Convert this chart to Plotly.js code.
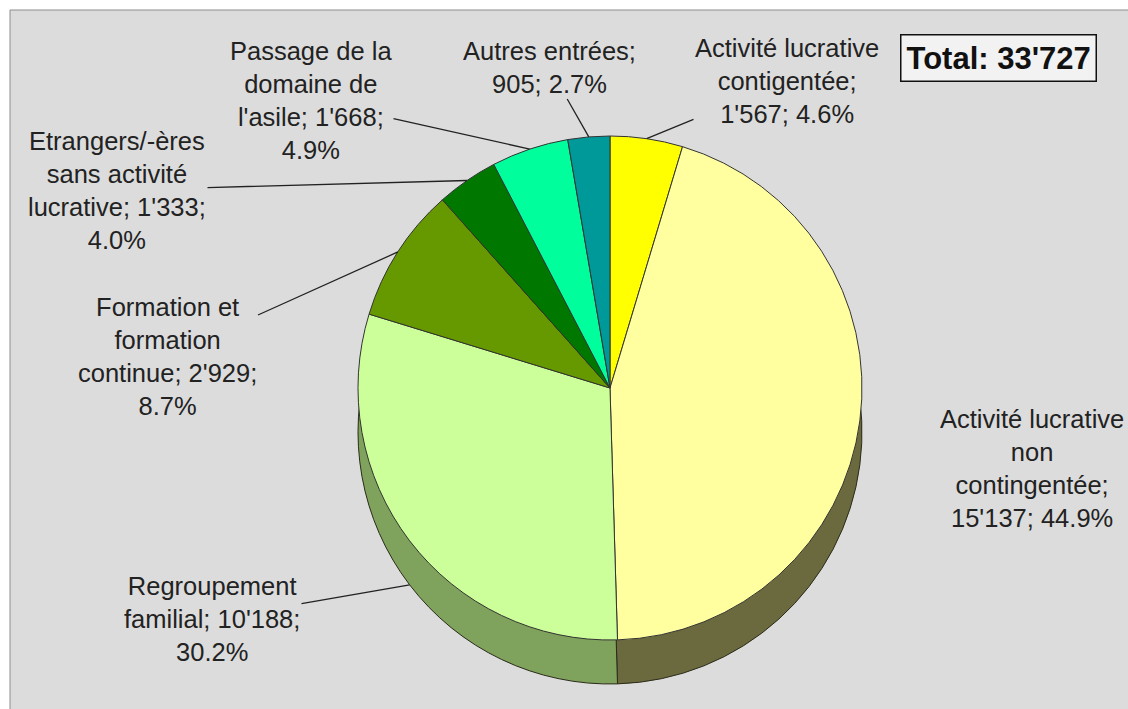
<!DOCTYPE html>
<html>
<head>
<meta charset="utf-8">
<script src="https://cdn.plot.ly/plotly-3.0.1.min.js"></script>
<style>
  body { margin: 0; background: #fff; }
  #chart { width: 1128px; height: 709px; }
</style>
</head>
<body>
<div id="chart"></div>
<script>
// slices, clockwise from 12 o'clock
const categories = [
  "Activité lucrative contigentée",
  "Activité lucrative non contingentée",
  "Regroupement familial",
  "Formation et formation continue",
  "Etrangers/-ères sans activité lucrative",
  "Passage de la domaine de l'asile",
  "Autres entrées"
];
const values = [1567, 15137, 10188, 2929, 1333, 1668, 905];

// label text as wrapped in the original ({v} = value, {p} = percent)
const labelTemplates = [
  "Activité lucrative<br>contigentée;<br>{v}; {p}",
  "Activité lucrative<br>non<br>contingentée;<br>{v}; {p}",
  "Regroupement<br>familial; {v};<br>{p}",
  "Formation et<br>formation<br>continue; {v};<br>{p}",
  "Etrangers/-ères<br>sans activité<br>lucrative; {v};<br>{p}",
  "Passage de la<br>domaine de<br>l'asile; {v};<br>{p}",
  "Autres entrées;<br>{v}; {p}"
];

const topColors = ["#ffff00", "#ffff9f", "#ccff99", "#669900", "#007800", "#00ff9c", "#009999"];
const sideColors = ["#8a8a00", "#6b6a3e", "#7fa35c", "#3d5c00", "#004a00", "#00995e", "#005c5c"];

// layout (pixels)
const W = 1128, H = 709;
const cx = 610, cy = 388, r = 252, depth = 44;
const labelPos = [[787, 81], [1032, 468], [212, 619], [167, 356], [117, 190], [311, 100], [549, 67]];
const leader = [true, false, true, true, true, true, true];

const total = values.reduce((a, b) => a + b, 0);
const fmt = n => String(n).replace(/\B(?=(\d{3})+(?!\d))/g, "'");
const pct = v => (v / total * 100).toFixed(1) + "%";

function pieDomain(offset) {
  return {
    x: [(cx - r) / W, (cx + r) / W],
    y: [1 - (cy + offset + r) / H, 1 - (cy + offset - r) / H]
  };
}

const labelFont = { family: "Liberation Sans, Arial, sans-serif", size: 25.5, color: "#222" };

const sideFace = {
  type: "pie",
  labels: categories,
  values: values,
  sort: false,
  direction: "clockwise",
  rotation: 0,
  domain: pieDomain(depth),
  marker: { colors: sideColors, line: { color: "#2b2b1a", width: 1 } },
  textinfo: "none",
  hoverinfo: "skip",
  showlegend: false
};

const topFace = {
  type: "pie",
  labels: categories,
  values: values,
  sort: false,
  direction: "clockwise",
  rotation: 0,
  domain: pieDomain(0),
  marker: { colors: topColors, line: { color: "#333", width: 1 } },
  textinfo: "none",
  hovertemplate: "%{label}<br>%{value}<br>%{percent}<extra></extra>",
  showlegend: false
};

let cum = 0;
const annotations = values.map((v, i) => {
  const mid = (cum + v / 2) / total * 2 * Math.PI;
  cum += v;
  const hx = cx + r * Math.sin(mid);
  let hy = cy - r * Math.cos(mid);
  if (Math.cos(mid) < 0) hy += depth;
  const [tx, ty] = labelPos[i];
  const base = {
    text: labelTemplates[i].replace("{v}", fmt(v)).replace("{p}", pct(v)),
    font: labelFont,
    align: "center",
    xref: "paper",
    yref: "paper"
  };
  if (!leader[i]) {
    return { ...base, x: tx / W, y: 1 - ty / H, xanchor: "center", yanchor: "middle", showarrow: false };
  }
  return {
    ...base,
    x: hx / W, y: 1 - hy / H,
    ax: tx - hx, ay: ty - hy,
    showarrow: true, arrowhead: 0, arrowwidth: 1.3, arrowcolor: "#222"
  };
});

annotations.push({
  text: "<b>Total: " + fmt(total) + "</b>",
  xref: "paper", yref: "paper",
  x: 998 / W, y: 1 - 58 / H,
  xanchor: "center", yanchor: "middle",
  showarrow: false,
  font: { family: "Liberation Sans, Arial, sans-serif", size: 31, color: "#111" },
  bgcolor: "#f2f2f2",
  bordercolor: "#111",
  borderwidth: 1.5,
  borderpad: 5
});

const layout = {
  width: W,
  height: H,
  margin: { l: 0, r: 0, t: 0, b: 0 },
  paper_bgcolor: "#ffffff",
  showlegend: false,
  annotations: annotations,
  shapes: [{
    type: "rect", xref: "paper", yref: "paper", layer: "below",
    x0: 10 / W, x1: 1.01, y0: -0.01, y1: 1 - 10 / H,
    fillcolor: "#dcdcdc",
    line: { color: "#8c8c8c", width: 1 }
  }]
};

Plotly.newPlot("chart", [sideFace, topFace], layout, { displayModeBar: false });
</script>
</body>
</html>
